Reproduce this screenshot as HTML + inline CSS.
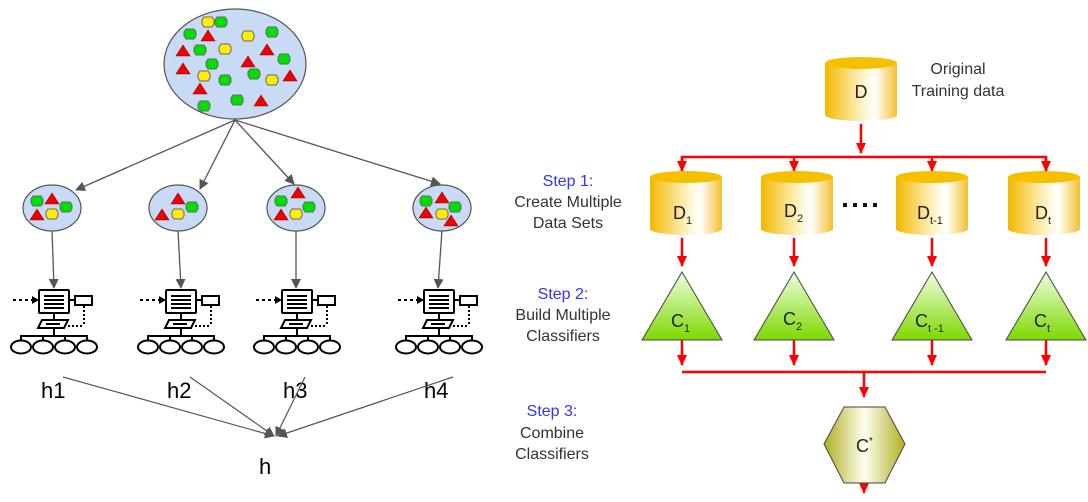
<!DOCTYPE html>
<html><head><meta charset="utf-8"><style>
body{margin:0;background:#fff;width:1088px;height:497px;overflow:hidden}
text{font-family:"Liberation Sans",sans-serif}
</style></head><body>
<svg width="1088" height="497" viewBox="0 0 1088 497" xmlns="http://www.w3.org/2000/svg">
<defs>
<marker id="ga" markerWidth="10" markerHeight="10" refX="9" refY="5" orient="auto" markerUnits="userSpaceOnUse"><path d="M0,0 L10,5 L0,10 z" fill="#555"/></marker>
<marker id="ra" markerWidth="12" markerHeight="12" refX="10" refY="6" orient="auto" markerUnits="userSpaceOnUse"><path d="M0,1 L11,6 L0,11 z" fill="#f00"/></marker>
<linearGradient id="cyl" x1="0" x2="1" y1="0" y2="0"><stop offset="0" stop-color="#f2b800"/><stop offset="0.55" stop-color="#fff6d0"/><stop offset="0.7" stop-color="#fff"/><stop offset="1" stop-color="#f2c030"/></linearGradient>
<linearGradient id="tri" x1="0" x2="0" y1="0" y2="1"><stop offset="0" stop-color="#f0ffe0"/><stop offset="1" stop-color="#7ed800"/></linearGradient>
<linearGradient id="hex" x1="0" x2="1" y1="0" y2="0"><stop offset="0" stop-color="#b0ad20"/><stop offset="0.5" stop-color="#fffff0"/><stop offset="1" stop-color="#b0ad20"/></linearGradient>
<g id="g"><path d="M-6,-2 L-4,-5 L4,-5 L6,-2 L6,2 L4,5 L-4,5 L-6,2 z" fill="#00e000" stroke="#666" stroke-width="1"/></g>
<g id="y"><path d="M-6,-2 L-4,-5 L4,-5 L6,-2 L6,2 L4,5 L-4,5 L-6,2 z" fill="#ffee00" stroke="#666" stroke-width="1"/></g>
<g id="t"><path d="M0,-6 L7,5 L-7,5 z" fill="#e00" stroke="#900" stroke-width="0.6"/></g>
<g id="comp" fill="none" stroke="#000" stroke-width="2">
<rect x="39" y="290" width="30" height="23" rx="1"/>
<line x1="44" y1="296" x2="64" y2="296"/><line x1="44" y1="300" x2="64" y2="300"/><line x1="44" y1="304" x2="64" y2="304"/><line x1="44" y1="308" x2="64" y2="308"/>
<line x1="69" y1="300" x2="75" y2="300"/><rect x="75" y="296" width="17" height="9"/>
<line x1="13" y1="300" x2="37" y2="300" stroke-dasharray="3,3"/><path d="M32,296 L39,300 L32,304" fill="#000" stroke="none"/>
<line x1="54" y1="313" x2="54" y2="320"/>
<path d="M42,320 L68,320 L64,328 L38,328 z"/><line x1="46" y1="324" x2="60" y2="324"/>
<line x1="84" y1="306" x2="84" y2="326" stroke-dasharray="2,2"/><line x1="68" y1="326" x2="84" y2="326" stroke-dasharray="2,2"/>
<line x1="54" y1="328" x2="54" y2="336"/>
<polyline points="21,341 21,336 87,336 87,341"/><line x1="43" y1="336" x2="43" y2="341"/><line x1="65" y1="336" x2="65" y2="341"/>
<ellipse cx="21" cy="347" rx="10" ry="6.5"/><ellipse cx="43" cy="347" rx="10" ry="6.5"/><ellipse cx="65" cy="347" rx="10" ry="6.5"/><ellipse cx="87" cy="347" rx="10" ry="6.5"/>
</g>
<g id="cylD"><path d="M0,0 v52 a36,6 0 0 0 72,0 v-52 z" fill="url(#cyl)"/><ellipse cx="36" cy="0" rx="36" ry="6" fill="#f5c000"/></g>
</defs>

<!-- left -->
<ellipse cx="235" cy="64" rx="71" ry="55" fill="#c9daf5" stroke="#555" stroke-width="1.2"/>
<use href="#y" x="208" y="22"/><use href="#g" x="221" y="22"/>
<use href="#g" x="190" y="34"/><use href="#t" x="208" y="36"/><use href="#y" x="248" y="36"/><use href="#g" x="272" y="32"/>
<use href="#t" x="183" y="51"/><use href="#g" x="200" y="50"/><use href="#y" x="225" y="49"/><use href="#t" x="267" y="50"/>
<use href="#g" x="212" y="64"/><use href="#t" x="248" y="62"/><use href="#g" x="284" y="59"/>
<use href="#t" x="183" y="69"/><use href="#y" x="204" y="76"/><use href="#g" x="225" y="80"/><use href="#g" x="254" y="74"/><use href="#y" x="272" y="80"/><use href="#t" x="290" y="76"/>
<use href="#t" x="200" y="89"/><use href="#g" x="237" y="100"/><use href="#t" x="261" y="101"/><use href="#g" x="204" y="106"/>
<g stroke="#555" stroke-width="1.3" marker-end="url(#ga)">
<line x1="235" y1="120" x2="76" y2="190"/><line x1="235" y1="120" x2="200" y2="189"/><line x1="235" y1="120" x2="294" y2="184"/><line x1="235" y1="120" x2="440" y2="184"/>
<line x1="52" y1="230" x2="54" y2="288"/><line x1="178" y1="230" x2="181" y2="288"/><line x1="296" y1="230" x2="296" y2="288"/><line x1="442" y1="230" x2="438" y2="288"/>
</g>
<g stroke="#555" stroke-width="1.2">
<ellipse cx="52" cy="208" rx="29" ry="23" fill="#c9daf5"/><ellipse cx="178" cy="208" rx="29" ry="23" fill="#c9daf5"/><ellipse cx="296" cy="208" rx="29" ry="23" fill="#c9daf5"/><ellipse cx="442" cy="208" rx="29" ry="23" fill="#c9daf5"/>
</g>
<use href="#g" x="37" y="201"/><use href="#t" x="52" y="199"/><use href="#g" x="66" y="207"/><use href="#t" x="37" y="215"/><use href="#y" x="52" y="214"/>
<use href="#t" x="178" y="199"/><use href="#g" x="192" y="207"/><use href="#t" x="162" y="215"/><use href="#y" x="178" y="214"/>
<use href="#g" x="281" y="201"/><use href="#t" x="298" y="193"/><use href="#g" x="309" y="207"/><use href="#t" x="281" y="215"/><use href="#y" x="296" y="214"/>
<use href="#g" x="426" y="201"/><use href="#t" x="442" y="198"/><use href="#g" x="455" y="207"/><use href="#t" x="426" y="213"/><use href="#y" x="442" y="214"/><use href="#t" x="451" y="221"/>
<use href="#comp"/><use href="#comp" x="127"/><use href="#comp" x="243"/><use href="#comp" x="385"/>
<g font-size="22" fill="#000">
<text x="41" y="398">h1</text><text x="167" y="398">h2</text><text x="283" y="398">h3</text><text x="424" y="398">h4</text><text x="259" y="474">h</text>
</g>
<g stroke="#555" stroke-width="1.2" marker-end="url(#ga)">
<line x1="63" y1="377" x2="274" y2="436"/><line x1="190" y1="377" x2="274" y2="436"/><line x1="305" y1="377" x2="276" y2="436"/><line x1="453" y1="377" x2="278" y2="436"/>
</g>

<!-- right -->
<use href="#cylD" x="825" y="63"/><text x="861" y="98" font-size="18" text-anchor="middle" fill="#222">D</text>
<text x="958" y="74" font-size="16" text-anchor="middle" fill="#333">Original</text>
<text x="958" y="96" font-size="16" text-anchor="middle" fill="#333">Training data</text>
<g stroke="#f00" stroke-width="2.5" fill="none">
<line x1="861" y1="124" x2="861" y2="153" marker-end="url(#ra)"/>
<polyline points="682,171 682,157 1046,157 1046,171"/>
<line x1="682" y1="157" x2="682" y2="171" marker-end="url(#ra)"/><line x1="794" y1="157" x2="794" y2="171" marker-end="url(#ra)"/><line x1="932" y1="157" x2="932" y2="171" marker-end="url(#ra)"/><line x1="1046" y1="157" x2="1046" y2="171" marker-end="url(#ra)"/>
<line x1="682" y1="238" x2="682" y2="266" marker-end="url(#ra)"/><line x1="794" y1="238" x2="794" y2="266" marker-end="url(#ra)"/><line x1="932" y1="238" x2="932" y2="266" marker-end="url(#ra)"/><line x1="1046" y1="238" x2="1046" y2="266" marker-end="url(#ra)"/>
<line x1="682" y1="340" x2="682" y2="365" marker-end="url(#ra)"/><line x1="794" y1="340" x2="794" y2="365" marker-end="url(#ra)"/><line x1="932" y1="340" x2="932" y2="365" marker-end="url(#ra)"/><line x1="1046" y1="340" x2="1046" y2="365" marker-end="url(#ra)"/>
<line x1="682" y1="372" x2="1046" y2="372"/>
<line x1="864" y1="372" x2="864" y2="397" marker-end="url(#ra)"/>
<line x1="864" y1="468" x2="864" y2="493" marker-end="url(#ra)"/>
</g>
<use href="#cylD" x="650" y="177"/><use href="#cylD" x="761" y="177"/><use href="#cylD" x="896" y="177"/><use href="#cylD" x="1008" y="177"/>
<g font-size="18" fill="#222">
<text x="673" y="219">D<tspan font-size="11" dy="5">1</tspan></text>
<text x="784" y="217">D<tspan font-size="11" dy="5">2</tspan></text>
<text x="917" y="219">D<tspan font-size="11" dy="5">t-1</tspan></text>
<text x="1035" y="219">D<tspan font-size="11" dy="5">t</tspan></text>
</g>
<g fill="#111"><rect x="843" y="203" width="4" height="4"/><rect x="853" y="203" width="4" height="4"/><rect x="863" y="203" width="4" height="4"/><rect x="873" y="203" width="4" height="4"/></g>
<g stroke="#444" stroke-width="1" fill="url(#tri)">
<polygon points="682,272 722,340 642,340"/><polygon points="794,272 834,340 754,340"/><polygon points="932,272 972,340 892,340"/><polygon points="1046,272 1086,340 1006,340"/>
</g>
<g font-size="18" fill="#222">
<text x="671" y="327">C<tspan font-size="11" dy="5">1</tspan></text>
<text x="783" y="325">C<tspan font-size="11" dy="5">2</tspan></text>
<text x="915" y="327">C<tspan font-size="11" dy="5">t -1</tspan></text>
<text x="1034" y="327">C<tspan font-size="11" dy="5">t</tspan></text>
</g>
<polygon points="844,407 885,407 905,444 885,483 844,483 824,444" fill="url(#hex)" stroke="#444" stroke-width="1"/>
<text x="856" y="452" font-size="18" fill="#222">C<tspan font-size="10" dy="-8">*</tspan></text>
<g font-size="16" text-anchor="middle" fill="#333">
<text x="568" y="186" fill="#33f">Step 1:</text><text x="568" y="207">Create Multiple</text><text x="568" y="228">Data Sets</text>
<text x="563" y="299" fill="#33f">Step 2:</text><text x="563" y="320">Build Multiple</text><text x="563" y="341">Classifiers</text>
<text x="552" y="416" fill="#33f">Step 3:</text><text x="552" y="438">Combine</text><text x="552" y="459">Classifiers</text>
</g>
</svg>
</body></html>
